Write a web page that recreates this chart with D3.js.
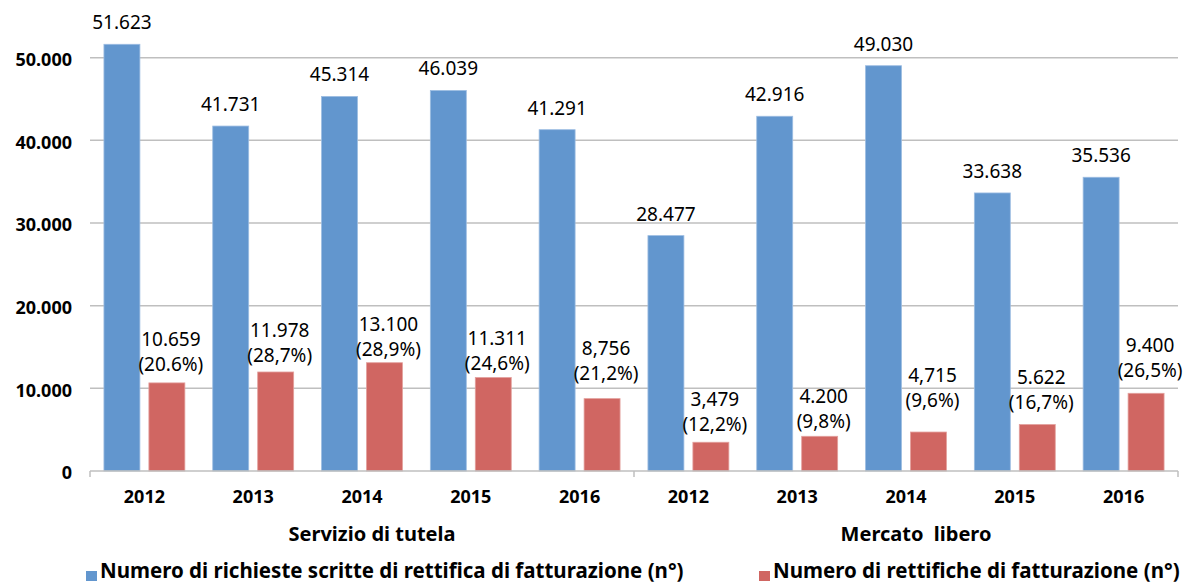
<!DOCTYPE html>
<html>
<head>
<meta charset="utf-8">
<title>rettifiche di fatturazione</title>
<style>
  body { margin: 0; background: #fff; }
  svg { display: block; font-family: "Noto Sans", "DejaVu Sans", sans-serif; }
</style>
</head>
<body>
<svg width="1188" height="584"></svg>
<script src="https://d3js.org/d3.v7.min.js"></script>
<script>

    var groups = ["Servizio di tutela", "Mercato  libero"];
    var years = ["2012", "2013", "2014", "2015", "2016"];
    var richieste = [51623, 41731, 45314, 46039, 41291, 28477, 42916, 49030, 33638, 35536];
    var rettifiche = [10659, 11978, 13100, 11311, 8756, 3479, 4200, 4715, 5622, 9400];
    var richiesteLabels = ["51.623", "41.731", "45.314", "46.039", "41.291", "28.477", "42.916", "49.030", "33.638", "35.536"];
    var rettificheLabels = ["10.659", "11.978", "13.100", "11.311", "8,756", "3,479", "4.200", "4,715", "5.622", "9.400"];
    var percentLabels = ["(20.6%)", "(28,7%)", "(28,9%)", "(24,6%)", "(21,2%)", "(12,2%)", "(9,8%)", "(9,6%)", "(16,7%)", "(26,5%)"];
    var yTicks = [0, 10000, 20000, 30000, 40000, 50000];
    var yTickLabels = ["0", "10.000", "20.000", "30.000", "40.000", "50.000"];
    var seriesNames = ["Numero di richieste scritte di rettifica di fatturazione (n°)", "Numero di rettifiche di fatturazione (n°)"];

    // the red labels were nudged by hand in the original, gap above the bar (px)
    var redLabelGap = [12, 10, 7, 8, 19, 11, 8, 25, 16, 16];

    var blue = "#6296ce", red = "#d06662", grid = "#bfbfbf";

    var svg = d3.select("svg"),
        left = 90, right = 1178, bottom = 471;

    var cats = [];
    groups.forEach(function (g, gi) {
        years.forEach(function (yr, yi) { cats.push(gi * years.length + yi); });
    });

    var x = d3.scaleBand().domain(cats).range([left, right]);
    var sub = d3.scaleBand().domain([0, 1]).range([0, x.bandwidth()])
        .paddingInner(0.2).paddingOuter(0.31);
    var y = d3.scaleLinear().domain([0, 50000]).range([bottom, 57.7]);

    // gridlines
    svg.append("g").selectAll("line")
        .data(yTicks.slice(1))
        .join("line")
        .attr("x1", left).attr("x2", right)
        .attr("y1", function (d) { return y(d); })
        .attr("y2", function (d) { return y(d); })
        .attr("stroke", grid).attr("stroke-width", 1.5);

    // y labels
    svg.append("g").selectAll("text")
        .data(yTicks)
        .join("text")
        .attr("x", 72)
        .attr("y", function (d) { return y(d) + 2; })
        .attr("dy", "0.35em")
        .attr("text-anchor", "end")
        .attr("font-size", 18).attr("font-weight", "bold")
        .text(function (d, i) { return yTickLabels[i]; });

    // bars
    var bars = svg.append("g");
    bars.selectAll("rect.b")
        .data(richieste)
        .join("rect").attr("class", "b")
        .attr("x", function (d, i) { return x(i) + sub(0); })
        .attr("width", sub.bandwidth())
        .attr("y", function (d) { return y(d); })
        .attr("height", function (d) { return bottom - y(d); })
        .attr("fill", blue).attr("stroke", "#9dbde2").attr("stroke-width", 0.8);
    bars.selectAll("rect.r")
        .data(rettifiche)
        .join("rect").attr("class", "r")
        .attr("x", function (d, i) { return x(i) + sub(1); })
        .attr("width", sub.bandwidth())
        .attr("y", function (d) { return y(d); })
        .attr("height", function (d) { return bottom - y(d); })
        .attr("fill", red).attr("stroke", "#e3a09d").attr("stroke-width", 0.8);

    // x axis line and category ticks
    svg.append("line")
        .attr("x1", left).attr("x2", right)
        .attr("y1", bottom).attr("y2", bottom)
        .attr("stroke", grid).attr("stroke-width", 1.5);
    svg.append("g").selectAll("line")
        .data([0, 5, 10])
        .join("line")
        .attr("x1", function (d) { return left + d * x.step(); })
        .attr("x2", function (d) { return left + d * x.step(); })
        .attr("y1", bottom).attr("y2", bottom + 6)
        .attr("stroke", grid).attr("stroke-width", 1.5);

    // value labels
    svg.append("g").selectAll("text")
        .data(richieste)
        .join("text")
        .attr("x", function (d, i) { return x(i) + sub(0) + sub.bandwidth() / 2; })
        .attr("y", function (d) { return y(d) - 15; })
        .attr("text-anchor", "middle")
        .attr("font-size", 19)
        .text(function (d, i) { return richiesteLabels[i]; });

    var rl = svg.append("g").selectAll("text")
        .data(rettifiche)
        .join("text")
        .attr("text-anchor", "middle")
        .attr("font-size", 19);
    rl.append("tspan")
        .attr("x", function (d, i) { return x(i) + sub(1) + sub.bandwidth() / 2 + 4; })
        .attr("y", function (d, i) { return y(d) - redLabelGap[i] - 25; })
        .text(function (d, i) { return rettificheLabels[i]; });
    rl.append("tspan")
        .attr("x", function (d, i) { return x(i) + sub(1) + sub.bandwidth() / 2 + 4; })
        .attr("y", function (d, i) { return y(d) - redLabelGap[i]; })
        .text(function (d, i) { return percentLabels[i]; });

    // year labels
    svg.append("g").selectAll("text")
        .data(cats)
        .join("text")
        .attr("x", function (d) { return x(d) + x.bandwidth() / 2; })
        .attr("y", 503)
        .attr("text-anchor", "middle")
        .attr("font-size", 18).attr("font-weight", "bold")
        .text(function (d) { return years[d % years.length]; });

    // group labels
    svg.append("g").selectAll("text")
        .data(groups)
        .join("text")
        .attr("x", function (d, gi) { return left + (gi * 5 + 2.5) * x.step() + 10; })
        .attr("y", 541)
        .attr("text-anchor", "middle")
        .attr("font-size", 20).attr("font-weight", "bold")
        .style("white-space", "pre")
        .text(function (d) { return d; });

    // legend
    var legendX = [86, 759];
    var leg = svg.append("g").selectAll("g")
        .data(seriesNames)
        .join("g")
        .attr("transform", function (d, i) { return "translate(" + legendX[i] + ",0)"; });
    leg.append("rect")
        .attr("y", 571).attr("width", 11).attr("height", 10)
        .attr("fill", function (d, i) { return i === 0 ? blue : red; });
    leg.append("text")
        .attr("x", 14).attr("y", 578)
        .attr("font-size", 20.5).attr("font-weight", "bold")
        .text(function (d) { return d; });

</script>
</body>
</html>
